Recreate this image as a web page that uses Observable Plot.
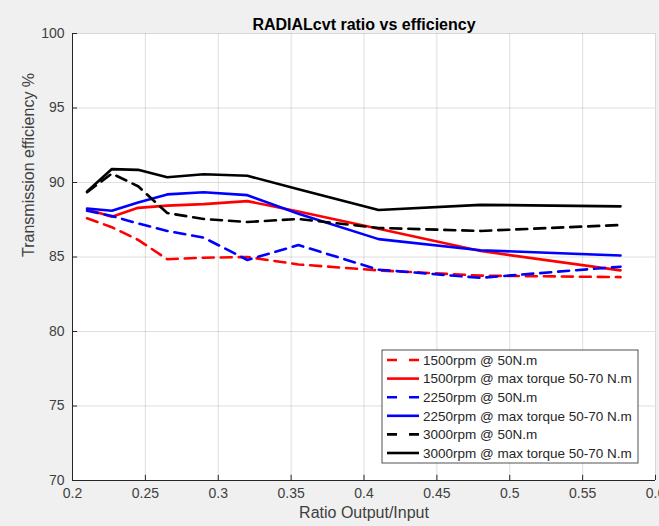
<!DOCTYPE html>
<html>
<head>
<meta charset="utf-8">
<script src="https://cdn.jsdelivr.net/npm/d3@7"></script>
<script src="https://cdn.jsdelivr.net/npm/@observablehq/plot@0.6"></script>
<style>
  html, body { margin: 0; padding: 0; background: #f0f0f0; }
  #chart { width: 659px; height: 526px; }
</style>
</head>
<body>
<div id="chart"></div>
<script>
// ---- data ----
const ratio = [0.21, 0.227, 0.245, 0.265, 0.29, 0.32, 0.355, 0.41, 0.48, 0.576];
const rpm1500_50 = [87.6, 87.0, 86.15, 84.85, 84.95, 85.0, 84.5, 84.1, 83.75, 83.65];
const rpm1500_max = [88.2, 87.7, 88.3, 88.45, 88.55, 88.75, 88.05, 86.9, 85.4, 84.1];
const rpm2250_50 = [88.1, 87.75, 87.25, 86.75, 86.3, 84.8, 85.8, 84.15, 83.6, 84.35];
const rpm2250_max = [88.25, 88.1, 88.65, 89.2, 89.35, 89.15, 87.9, 86.2, 85.45, 85.1];
const rpm3000_50 = [89.35, 90.6, 89.75, 87.95, 87.55, 87.35, 87.55, 86.95, 86.75, 87.15];
const rpm3000_max = [89.4, 90.9, 90.85, 90.35, 90.55, 90.45, 89.55, 88.15, 88.5, 88.4];

const seriesNames = [
  "1500rpm @ 50N.m",
  "1500rpm @ max torque 50-70 N.m",
  "2250rpm @ 50N.m",
  "2250rpm @ max torque 50-70 N.m",
  "3000rpm @ 50N.m",
  "3000rpm @ max torque 50-70 N.m"
];
const seriesValues = [rpm1500_50, rpm1500_max, rpm2250_50, rpm2250_max, rpm3000_50, rpm3000_max];
const seriesColors = ["#ff0000", "#ff0000", "#0000ff", "#0000ff", "#000000", "#000000"];
const seriesDashed = [true, false, true, false, true, false];

const xTicks = [0.2, 0.25, 0.3, 0.35, 0.4, 0.45, 0.5, 0.55, 0.6];
const yTicks = [70, 75, 80, 85, 90, 95, 100];
const title = "RADIALcvt ratio vs efficiency";
const xLabel = "Ratio Output/Input";
const yLabel = "Transmission efficiency %";

// ---- build table ----
const rows = [];
seriesNames.forEach((name, i) => {
  ratio.forEach((r, j) => rows.push({series: name, x: r, y: seriesValues[i][j]}));
});

const axisColor = "#262626";
const font = "'Liberation Sans', Arial, Helvetica, sans-serif";

const lineMarks = seriesNames.map((name, i) =>
  Plot.line(rows.filter(d => d.series === name), {
    x: "x", y: "y",
    stroke: seriesColors[i],
    strokeWidth: 2.6,
    strokeDasharray: seriesDashed[i] ? "11,7" : null,
    strokeLinejoin: "round"
  })
);

const chart = Plot.plot({
  width: 659,
  height: 526,
  marginTop: 33,
  marginLeft: 72,
  marginRight: 4,
  marginBottom: 46,
  style: {background: "#f0f0f0", fontFamily: font, color: axisColor, overflow: "visible"},
  x: {domain: [0.2, 0.6]},
  y: {domain: [70, 100]},
  marks: [
    Plot.frame({fill: "white", stroke: "none"}),
    Plot.ruleX(xTicks.slice(1), {stroke: "#262626", strokeOpacity: 0.15}),
    Plot.ruleY(yTicks.slice(1), {stroke: "#262626", strokeOpacity: 0.15}),
    ...lineMarks,
    // axis lines
    Plot.ruleX([0.2], {stroke: axisColor, strokeWidth: 1}),
    Plot.ruleY([70], {stroke: axisColor, strokeWidth: 1}),
    // inward ticks
    Plot.ruleX(xTicks, {y1: 70, y2: 70.35, stroke: axisColor}),
    Plot.ruleY(yTicks, {x1: 0.2, x2: 0.2035, stroke: axisColor}),
    Plot.axisX(xTicks, {tickSize: 0, tickPadding: 8, fontSize: 14, fill: "#404040", label: null,
      tickFormat: d => String(d)}),
    Plot.axisY(yTicks, {tickSize: 0, tickPadding: 8, fontSize: 14, fill: "#404040", label: null,
      tickFormat: d => String(d)}),
    Plot.text([title], {frameAnchor: "top", dy: -15, fontWeight: "bold", fontSize: 16, fill: "#000"}),
    Plot.text([xLabel], {frameAnchor: "bottom", dy: 37, fontSize: 16, fill: "#404040"}),
    Plot.text([yLabel], {frameAnchor: "left", dx: -44, rotate: -90, fontSize: 16, fill: "#404040"})
  ]
});

document.getElementById("chart").appendChild(chart);

// ---- legend (inside plot, lower right) ----
const svg = d3.select(chart);
const lg = svg.append("g").attr("font-family", font).attr("font-size", 13.5).attr("text-anchor", "start");
const lx = 382, ly = 350, lw = 256, lh = 113, rowH = 18.6;
lg.append("rect").attr("x", lx).attr("y", ly).attr("width", lw).attr("height", lh)
  .attr("fill", "white").attr("stroke", axisColor).attr("stroke-width", 0.8);
seriesNames.forEach((name, i) => {
  const cy = ly + 10 + i * rowH;
  lg.append("line").attr("x1", lx + 5).attr("x2", lx + 37).attr("y1", cy).attr("y2", cy)
    .attr("stroke", seriesColors[i]).attr("stroke-width", 2.6)
    .attr("stroke-dasharray", seriesDashed[i] ? "10,12" : null);
  lg.append("text").attr("x", lx + 41).attr("y", cy).attr("dy", "0.35em")
    .attr("text-anchor", "start").attr("fill", axisColor).text(name);
});
</script>
</body>
</html>
